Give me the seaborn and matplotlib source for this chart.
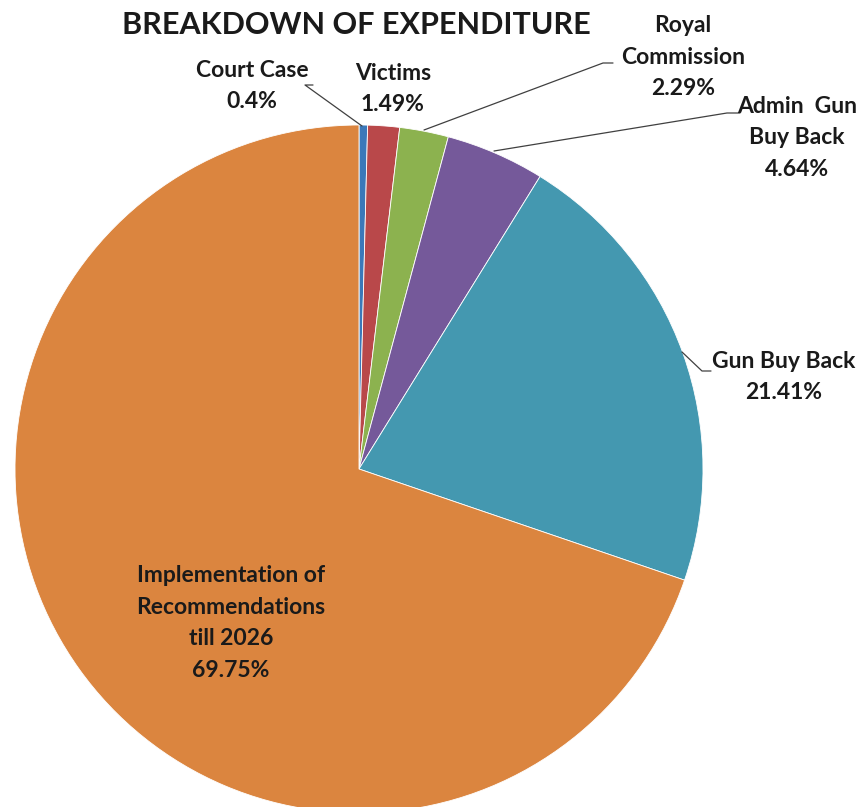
import matplotlib
matplotlib.use("Agg")
import matplotlib.pyplot as plt
import seaborn as sns

sns.set_theme(style="white")
plt.rcParams["font.family"] = ["Lato", "DejaVu Sans"]

# Expenditure shares, clockwise from 12 o'clock
categories = ["Court Case", "Victims", "Royal Commission", "Admin  Gun Buy Back",
              "Gun Buy Back", "Implementation of Recommendations till 2026"]
shares = [0.4, 1.49, 2.29, 4.64, 21.41, 69.75]
label_text = ["Court Case\n0.4%", "Victims\n1.49%", "Royal\nCommission\n2.29%",
              "Admin  Gun\nBuy Back\n4.64%", "Gun Buy Back\n21.41%",
              "Implementation of\nRecommendations\ntill 2026\n69.75%"]
palette = sns.color_palette(["#3b78b9", "#b9484a", "#8cb24f", "#75599a",
                             "#4498b0", "#db853f"])

W, H = 868, 807
fig = plt.figure(figsize=(W / 100, H / 100), dpi=100)
ax = fig.add_axes([0, 0, 1, 1])

ax.pie(shares, colors=palette, startangle=90, counterclock=False,
       center=(359, H - 469), radius=344,
       wedgeprops=dict(edgecolor="white", linewidth=0.6))
ax.set_xlim(0, W)
ax.set_ylim(0, H)
ax.set_aspect("equal")
ax.axis("off")

def Y(y):
    return H - y

txt = dict(ha="center", va="center", fontsize=16.5, fontweight="bold",
           color="#1a1a1a", linespacing=1.63)

# label placements (x, y) in pixel space, y measured from the top
label_pos = [(252, 86), (393, 89), (683, 57), (797, 138), (784, 377), (231, 623)]
for t, (x, y) in zip(label_text, label_pos):
    ax.text(x, Y(y), t, **txt)

# leader lines
lc = dict(color="#404040", lw=0.9)
ax.plot([313, 305, 362], [Y(85), Y(85), Y(126)], **lc)
ax.plot([613, 603, 424], [Y(63), Y(63), Y(130)], **lc)
ax.plot([740, 727, 494], [Y(113), Y(113), Y(151)], **lc)
ax.plot([682, 702, 711], [Y(352), Y(371), Y(371)], **lc)

ax.text(356, Y(25), "BREAKDOWN OF EXPENDITURE", ha="center", va="center",
        fontsize=22, fontweight="bold", color="#1a1a1a")

fig.savefig("out.png", dpi=100)
